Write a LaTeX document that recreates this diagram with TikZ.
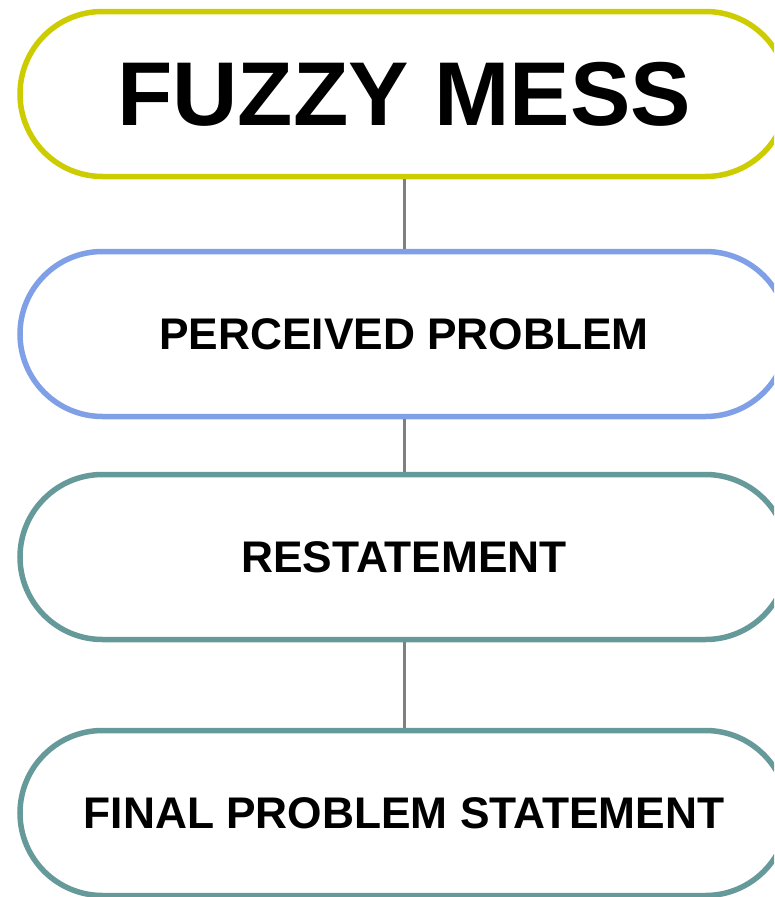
\documentclass[tikz,border=0pt]{standalone}
\usepackage{fontspec}
\setmainfont{Liberation Sans}
\definecolor{mustard}{HTML}{CCCC00}
\definecolor{softblue}{HTML}{7F9FE6}
\definecolor{teal}{HTML}{669999}
\definecolor{linkgray}{HTML}{808080}
\begin{document}
\begin{tikzpicture}[x=1pt,y=1pt,
  pill/.style={draw, line width=5.5pt, fill=white, rounded corners=82.5pt,
    minimum width=768pt, minimum height=165pt, inner sep=0pt,
    font=\bfseries\fontsize{44.3}{50}\selectfont},
  link/.style={draw=linkgray, line width=3pt}]
\useasboundingbox (0,0) rectangle (774,-897);
\clip (0,0) rectangle (774,-897);
\node[pill, draw=mustard, font=\bfseries\fontsize{90.6}{100}\selectfont] (fuzzy) at (404,-94) {FUZZY MESS};
\node[pill, draw=softblue] (perceived) at (404,-334) {PERCEIVED PROBLEM};
\node[pill, draw=teal] (restate) at (404,-557) {RESTATEMENT};
\node[pill, draw=teal] (final) at (404,-813) {FINAL PROBLEM STATEMENT};
\draw[link] (fuzzy.south) -- (perceived.north);
\draw[link] (perceived.south) -- (restate.north);
\draw[link] (restate.south) -- (final.north);
\end{tikzpicture}
\end{document}
